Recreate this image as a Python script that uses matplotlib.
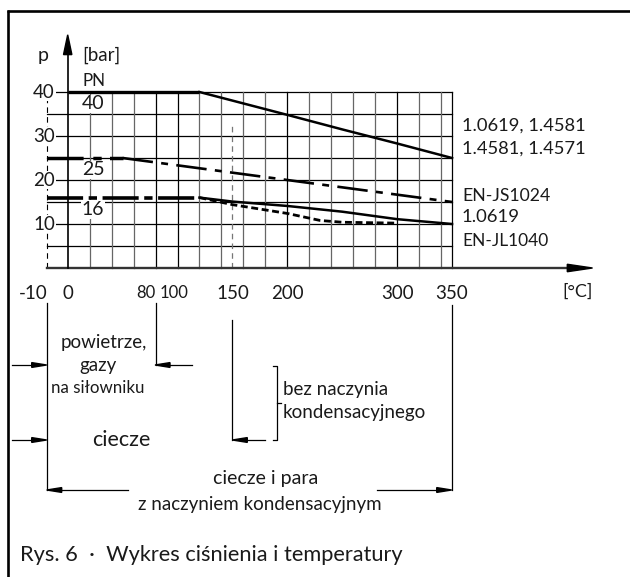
import matplotlib
matplotlib.use('Agg')
import matplotlib.pyplot as plt
from matplotlib.patches import Polygon

plt.rcParams['font.family'] = ['Lato', 'DejaVu Sans']
plt.rcParams['lines.scale_dashes'] = False

# ---------------- data ----------------
pn40_t = [0, 120, 200, 250, 300, 350]
pn40_p = [40, 40, 34.8, 31.5, 28.3, 25]
pn25_flat_t = [-10, 50]
pn25_flat_p = [25, 25]
pn25_t = [50, 350]
pn25_p = [25, 15]
pn16_flat_t = [-10, 120]
pn16_flat_p = [16, 16]
steel16_t = [120, 150, 200, 250, 300, 350]
steel16_p = [16, 15.1, 14.1, 12.8, 11.1, 10]
grey16_t = [120, 150, 200, 230, 250, 300]
grey16_p = [16, 14.4, 12.4, 10.8, 10.4, 10.2]

x_tick_vals = [-10, 0, 80, 100, 150, 200, 300, 350]
x_tick_labels = ['-10', '0', '80', '100', '150', '200', '300', '350']
y_tick_vals = [10, 20, 30, 40]
pn_labels = ['40', '25', '16']
pn_values = [40, 25, 16]
material_labels = ['1.0619, 1.4581', '1.4581, 1.4571', 'EN-JS1024', '1.0619', 'EN-JL1040']

# ---------------- geometry helpers (layout) ----------------
X0, SX = 67.7, 1.098     # px of 0 degC, px per degC
Y0, SY = 268.0, 4.4      # px of 0 bar, px per bar
W, H = 630, 577


def pos(t):
    """broken axis: the -10 segment is stretched"""
    return t if t >= 0 else t * 1.91


def PX(px):
    return (px - X0) / SX


def PY(py):
    return (Y0 - py) / SY


fig = plt.figure(figsize=(W / 100, H / 100), dpi=100)
ax = fig.add_axes([0, 0, 1, 1])
ax.set_xlim(PX(0), PX(W))
ax.set_ylim(PY(H), PY(0))
ax.axis('off')
renderer = fig.canvas.get_renderer()

FS = 13
TXT = '#1a1a1a'


def ftext(x, y, s, width_px, **kw):
    """text whose font size is tuned so it spans width_px pixels"""
    t = ax.text(x, y, s, fontsize=FS, color=TXT, **kw)
    w = t.get_window_extent(renderer).width
    t.set_fontsize(FS * width_px / w)
    return t


# frame (top + left)
ax.plot([PX(7), PX(W)], [PY(10.5), PY(10.5)], color='black', lw=1.9, solid_capstyle='butt')
ax.plot([PX(7.5), PX(7.5)], [PY(10), PY(H)], color='black', lw=1.9, solid_capstyle='butt')

# ---------------- grid ----------------
xm = pos(-10)
for p in range(5, 45, 5):
    ax.plot([xm, 350], [p, p], color='black', lw=0.9, zorder=1)
for t in range(20, 350, 20):
    col = 'black' if t in (80, 100, 200, 300) else '#666666'
    ax.plot([t, t], [0, 40], color=col, lw=0.9, zorder=1)
ax.plot([350, 350], [0, 40], color='black', lw=0.9, zorder=1)
ax.plot([150, 150], [0, 32.5], color='#777777', lw=0.9, dashes=(4, 3), zorder=1)
ax.plot([xm, xm], [0, 40], color='black', lw=0.8, dashes=(4, 3), zorder=1)

# axes with arrows
ax.plot([xm, 455], [0, 0], color='#333333', lw=1.7, zorder=3)
ax.add_patch(Polygon([[455, 0.85], [478, 0], [455, -0.85]], closed=True, color='black', zorder=3))
ax.plot([0, 0], [0, 48.5], color='black', lw=1.2, zorder=3)
ax.add_patch(Polygon([[-3.8, 48.5], [0, 53], [3.8, 48.5]], closed=True, color='black', zorder=3))

# ---------------- curves ----------------
ax.plot(pn40_t[:2], pn40_p[:2], color='black', lw=2.4, solid_capstyle='butt', zorder=4)
ax.plot(pn40_t[1:], pn40_p[1:], color='black', lw=1.8, zorder=4)
ax.plot([pos(t) for t in pn25_flat_t], pn25_flat_p, color='black', lw=2.5,
        dashes=(26, 7, 6, 6), zorder=4)
ax.plot(pn25_t, pn25_p, color='black', lw=1.9, dashes=(22, 6, 5, 6), zorder=4)
ax.plot([pos(t) for t in pn16_flat_t], pn16_flat_p, color='black', lw=2.6,
        dashes=(26, 4, 6, 4), zorder=4)
ax.plot(steel16_t, steel16_p, color='black', lw=1.8, zorder=4)
ax.plot(grey16_t, grey16_p, color='black', lw=2.0, dashes=(5, 2.6), zorder=4)

# ---------------- labels ----------------
wb = dict(facecolor='white', edgecolor='none', pad=0.5)
for v in y_tick_vals:
    ax.text(PX(55), v, str(v), ha='right', va='center', fontsize=FS + 0.5, color=TXT, bbox=wb, zorder=5)
for v, lab in zip(x_tick_vals, x_tick_labels):
    if v == -10:
        ax.text(PX(48), PY(293), lab, ha='right', va='center', fontsize=FS + 0.5, color=TXT)
    elif v in (80, 100):
        off = {80: -10, 100: -3}[v]
        ax.text(PX(X0 + SX * v + off), PY(293), lab, ha='center', va='center', fontsize=FS - 1, color=TXT)
    else:
        ax.text(PX(X0 + SX * v), PY(293), lab, ha='center', va='center', fontsize=FS + 0.5, color=TXT)
ftext(PX(578), PY(292), '[°C]', 30, ha='center', va='center')

ax.text(PX(43), PY(56), 'p', ha='center', va='center', fontsize=FS + 1, color=TXT)
ftext(PX(82), PY(55), '[bar]', 38, ha='left', va='center')
ftext(PX(93.5), PY(80.5), 'PN', 23, ha='center', va='center')
for lab, v in zip(pn_labels, pn_values):
    ax.text(PX(93), v - 2.7, lab, ha='center', va='center', fontsize=FS + 1, color=TXT, bbox=wb, zorder=5)

mat_y = [125.7, 148.3, 195.7, 217.3, 240.7]
mat_w = [124, 124, 87.7, 57.7, 86]
for lab, py, w in zip(material_labels, mat_y, mat_w):
    ftext(PX(462), PY(py), lab, w, ha='left', va='center')

# ---------------- lower annotation ----------------
LW = 0.9


def vline(t, py1, py2):
    ax.plot([t, t], [PY(py1), PY(py2)], color='black', lw=LW)


def arrow(px_from, px_to, py):
    y = PY(py)
    x1, x2 = PX(px_from), PX(px_to)
    d = 1 if x2 > x1 else -1
    hl = 15 / SX
    hw = 2.4 / SY
    ax.plot([x1, x2 - d * hl], [y, y], color='black', lw=LW)
    ax.add_patch(Polygon([[x2 - d * hl, y + hw], [x2, y], [x2 - d * hl, y - hw]],
                         closed=True, color='black'))


vline(xm, 303, 490)
vline(80, 303, 365)
vline(150, 320, 440)
vline(350, 305, 490)
arrow(11.7, 46.7, 365)
arrow(192, 155, 365)
arrow(11.7, 46.7, 440)
arrow(265, 232.3, 440)
arrow(128, 46.7, 490)
arrow(376.7, 451.7, 490)

# bracket
bx = PX(277.3)
ax.plot([PX(272.5), bx, bx, PX(272.5)], [PY(366), PY(366), PY(440), PY(440)], color='black', lw=LW)
ax.plot([bx, PX(281)], [PY(403), PY(403)], color='black', lw=LW)

FA = 13.5
ax.text(PX(103.5), PY(348), 'powietrze,', ha='center', va='baseline', fontsize=FA, color=TXT)
ax.text(PX(97.5), PY(370.7), 'gazy', ha='center', va='baseline', fontsize=FA, color=TXT)
ax.text(PX(98), PY(393.3), 'na siłowniku', ha='center', va='baseline', fontsize=FA - 1.3, color=TXT)
ax.text(PX(121.7), PY(445.7), 'ciecze', ha='center', va='baseline', fontsize=FA + 2, color=TXT)
ax.text(PX(283), PY(395), 'bez naczynia', ha='left', va='baseline', fontsize=FA, color=TXT)
ax.text(PX(283), PY(418), 'kondensacyjnego', ha='left', va='baseline', fontsize=FA, color=TXT)
ax.text(PX(266), PY(484), 'ciecze i para', ha='center', va='baseline', fontsize=FA + 0.5, color=TXT)
ax.text(PX(260), PY(510), 'z naczyniem kondensacyjnym', ha='center', va='baseline', fontsize=FA, color=TXT)
ftext(PX(20), PY(560.7), 'Rys. 6  ·  Wykres ciśnienia i temperatury', 382, ha='left', va='baseline')

fig.savefig('out.png', dpi=100)
